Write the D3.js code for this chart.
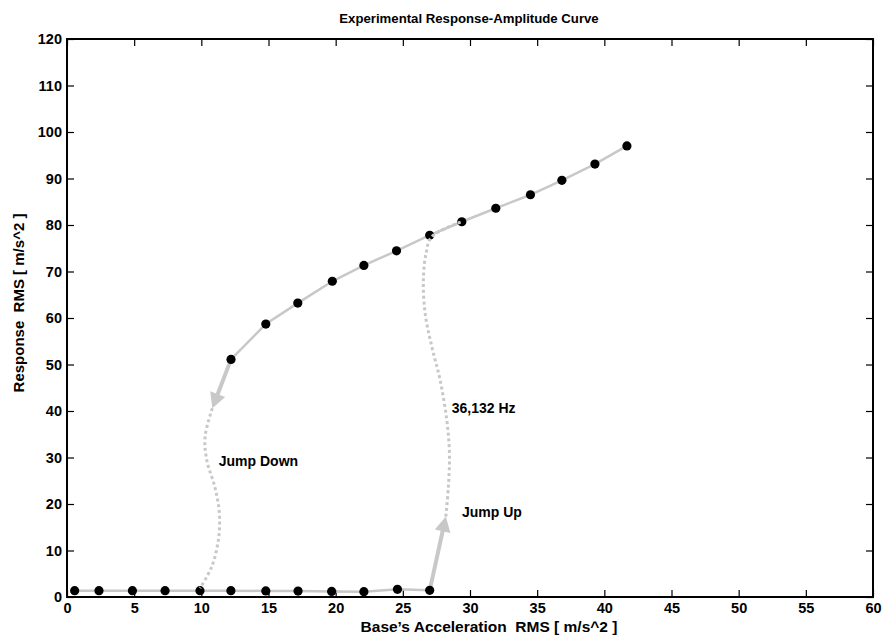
<!DOCTYPE html>
<html><head><meta charset="utf-8">
<script src="https://cdn.jsdelivr.net/npm/d3@7"></script>
<style>body{margin:0;background:#fff}svg{display:block}text{font-family:"Liberation Sans",Arial,sans-serif;font-weight:bold;fill:#000}</style>
</head><body>
<svg id="c" width="882" height="642"></svg>
<script>
// ---- data ----
const xTicks = [0,5,10,15,20,25,30,35,40,45,50,55,60];
const yTicks = [0,10,20,30,40,50,60,70,80,90,100,110,120];
const lowX = [0.57, 2.38, 4.87, 7.3, 9.9, 12.2, 14.8, 17.2, 19.7, 22.1, 24.6, 27.0];
const lowY = [1.36, 1.36, 1.36, 1.36, 1.36, 1.36, 1.3, 1.28, 1.2, 1.15, 1.65, 1.44];
const upX = [12.21, 14.8, 17.18, 19.75, 22.1, 24.53, 27.0, 29.39, 31.92, 34.5, 36.84, 39.3, 41.68];
const upY = [51.1, 58.7, 63.2, 67.9, 71.3, 74.45, 77.8, 80.7, 83.6, 86.5, 89.6, 93.1, 97.0];
// dotted jump paths
const downX = [10.82, 10.28, 10.40, 11.02, 11.34, 11.27, 10.77, 9.9];
const downY = [40.6, 34.5, 29.5, 23.5, 18.0, 12.3, 6.5, 1.9];
const jumpUpX = [28.2, 28.39, 28.47, 28.27, 27.77, 27.16, 26.66, 26.53, 26.73, 27.16, 29.39];
const jumpUpY = [17.3, 23.7, 30.9, 38.1, 46.7, 53.8, 61.0, 68.2, 73.9, 77.5, 80.7];
// arrows: [fromX, fromY, tipX, tipY]
const arrowDown = [12.21, 51.1, 10.82, 40.6];
const arrowUp = [27.0, 1.44, 28.2, 17.3];
const labels = [
  {t:"Jump Down", x:11.3, y:29.2},
  {t:"36,132 Hz", x:28.64, y:40.7},
  {t:"Jump Up", x:29.4, y:18.2}
];

const svg = d3.select("#c");
const L = 67, R = 873, T = 39, B = 597;
const x = d3.scaleLinear().domain([0,60]).range([L,R]);
const y = d3.scaleLinear().domain([0,120]).range([B,T]);
const gray = "#c8c8c8";

// axes with inward ticks
const fs = "14.5px";
const gx = svg.append("g").attr("transform",`translate(0,${B})`)
  .call(d3.axisBottom(x).tickValues(xTicks).tickSizeInner(-7).tickSizeOuter(0).tickPadding(6));
const gy = svg.append("g").attr("transform",`translate(${L},0)`)
  .call(d3.axisLeft(y).tickValues(yTicks).tickSizeInner(-7).tickSizeOuter(0).tickPadding(5));
svg.append("g").attr("transform",`translate(0,${T})`)
  .call(d3.axisTop(x).tickValues(xTicks).tickSizeInner(-7).tickSizeOuter(0).tickFormat(""));
svg.append("g").attr("transform",`translate(${R},0)`)
  .call(d3.axisRight(y).tickValues(yTicks).tickSizeInner(-7).tickSizeOuter(0).tickFormat(""));
svg.selectAll(".domain").remove();
svg.selectAll(".tick line").attr("stroke","#000").attr("stroke-width",1.2);
svg.selectAll(".tick text").style("font-size",fs).style("font-family",'"Liberation Sans",Arial,sans-serif').style("font-weight","bold").attr("fill","#000");
gx.selectAll(".tick text").attr("dy","0.71em");
svg.append("rect").attr("x",L).attr("y",T).attr("width",R-L).attr("height",B-T)
  .attr("fill","none").attr("stroke","#000").attr("stroke-width",2);

const line = d3.line().x(d=>x(d[0])).y(d=>y(d[1]));
const curve = d3.line().x(d=>x(d[0])).y(d=>y(d[1])).curve(d3.curveCatmullRom.alpha(0.5));

// solid branches
svg.append("path").attr("d", line(lowX.map((v,i)=>[v,lowY[i]])))
  .attr("fill","none").attr("stroke",gray).attr("stroke-width",2.5);
svg.append("path").attr("d", line(upX.map((v,i)=>[v,upY[i]])))
  .attr("fill","none").attr("stroke",gray).attr("stroke-width",2.5);

// arrows
function arrow(a){
  const x0=x(a[0]), y0=y(a[1]), x1=x(a[2]), y1=y(a[3]);
  const dx=x1-x0, dy=y1-y0, len=Math.hypot(dx,dy), ux=dx/len, uy=dy/len;
  const hl=15, hw=8;
  const bx=x1-ux*hl, by=y1-uy*hl;
  svg.append("line").attr("x1",x0).attr("y1",y0).attr("x2",bx+ux*2).attr("y2",by+uy*2)
    .attr("stroke",gray).attr("stroke-width",4);
  svg.append("polygon").attr("points",[[x1,y1],[bx-uy*hw,by+ux*hw],[bx+uy*hw,by-ux*hw]].map(p=>p.join(",")).join(" "))
    .attr("fill",gray);
}
arrow(arrowDown);
arrow(arrowUp);

// markers
const pts = lowX.map((v,i)=>[v,lowY[i]]).concat(upX.map((v,i)=>[v,upY[i]]));
svg.selectAll("circle.m").data(pts).enter().append("circle").attr("class","m")
  .attr("cx",d=>x(d[0])).attr("cy",d=>y(d[1])).attr("r",4.6).attr("fill","#000");

// dotted jump curves
svg.append("path").attr("d", curve(downX.map((v,i)=>[v,downY[i]])))
  .attr("fill","none").attr("stroke",gray).attr("stroke-width",3).attr("stroke-dasharray","3,2.8");
svg.append("path").attr("d", curve(jumpUpX.map((v,i)=>[v,jumpUpY[i]])))
  .attr("fill","none").attr("stroke",gray).attr("stroke-width",3).attr("stroke-dasharray","3,2.8");

// annotations
svg.selectAll("text.ann").data(labels).enter().append("text").attr("class","ann")
  .attr("x",d=>x(d.x)).attr("y",d=>y(d.y)).attr("dy","0.35em").style("font-size","14px").text(d=>d.t);

// title & axis labels
svg.append("text").attr("x",469).attr("y",18).attr("dy","0.35em").attr("text-anchor","middle")
  .style("font-size","13.2px").text("Experimental Response-Amplitude Curve");
svg.append("text").attr("x",489).attr("y",632).attr("text-anchor","middle")
  .style("font-size","15.5px").style("white-space","pre").text("Base’s Acceleration  RMS [ m/s^2 ]");
svg.append("text").attr("transform","translate(19,303) rotate(-90)").attr("dy","0.35em").attr("text-anchor","middle")
  .style("font-size","15px").style("white-space","pre").text("Response  RMS [ m/s^2 ]");
</script>
</body></html>
